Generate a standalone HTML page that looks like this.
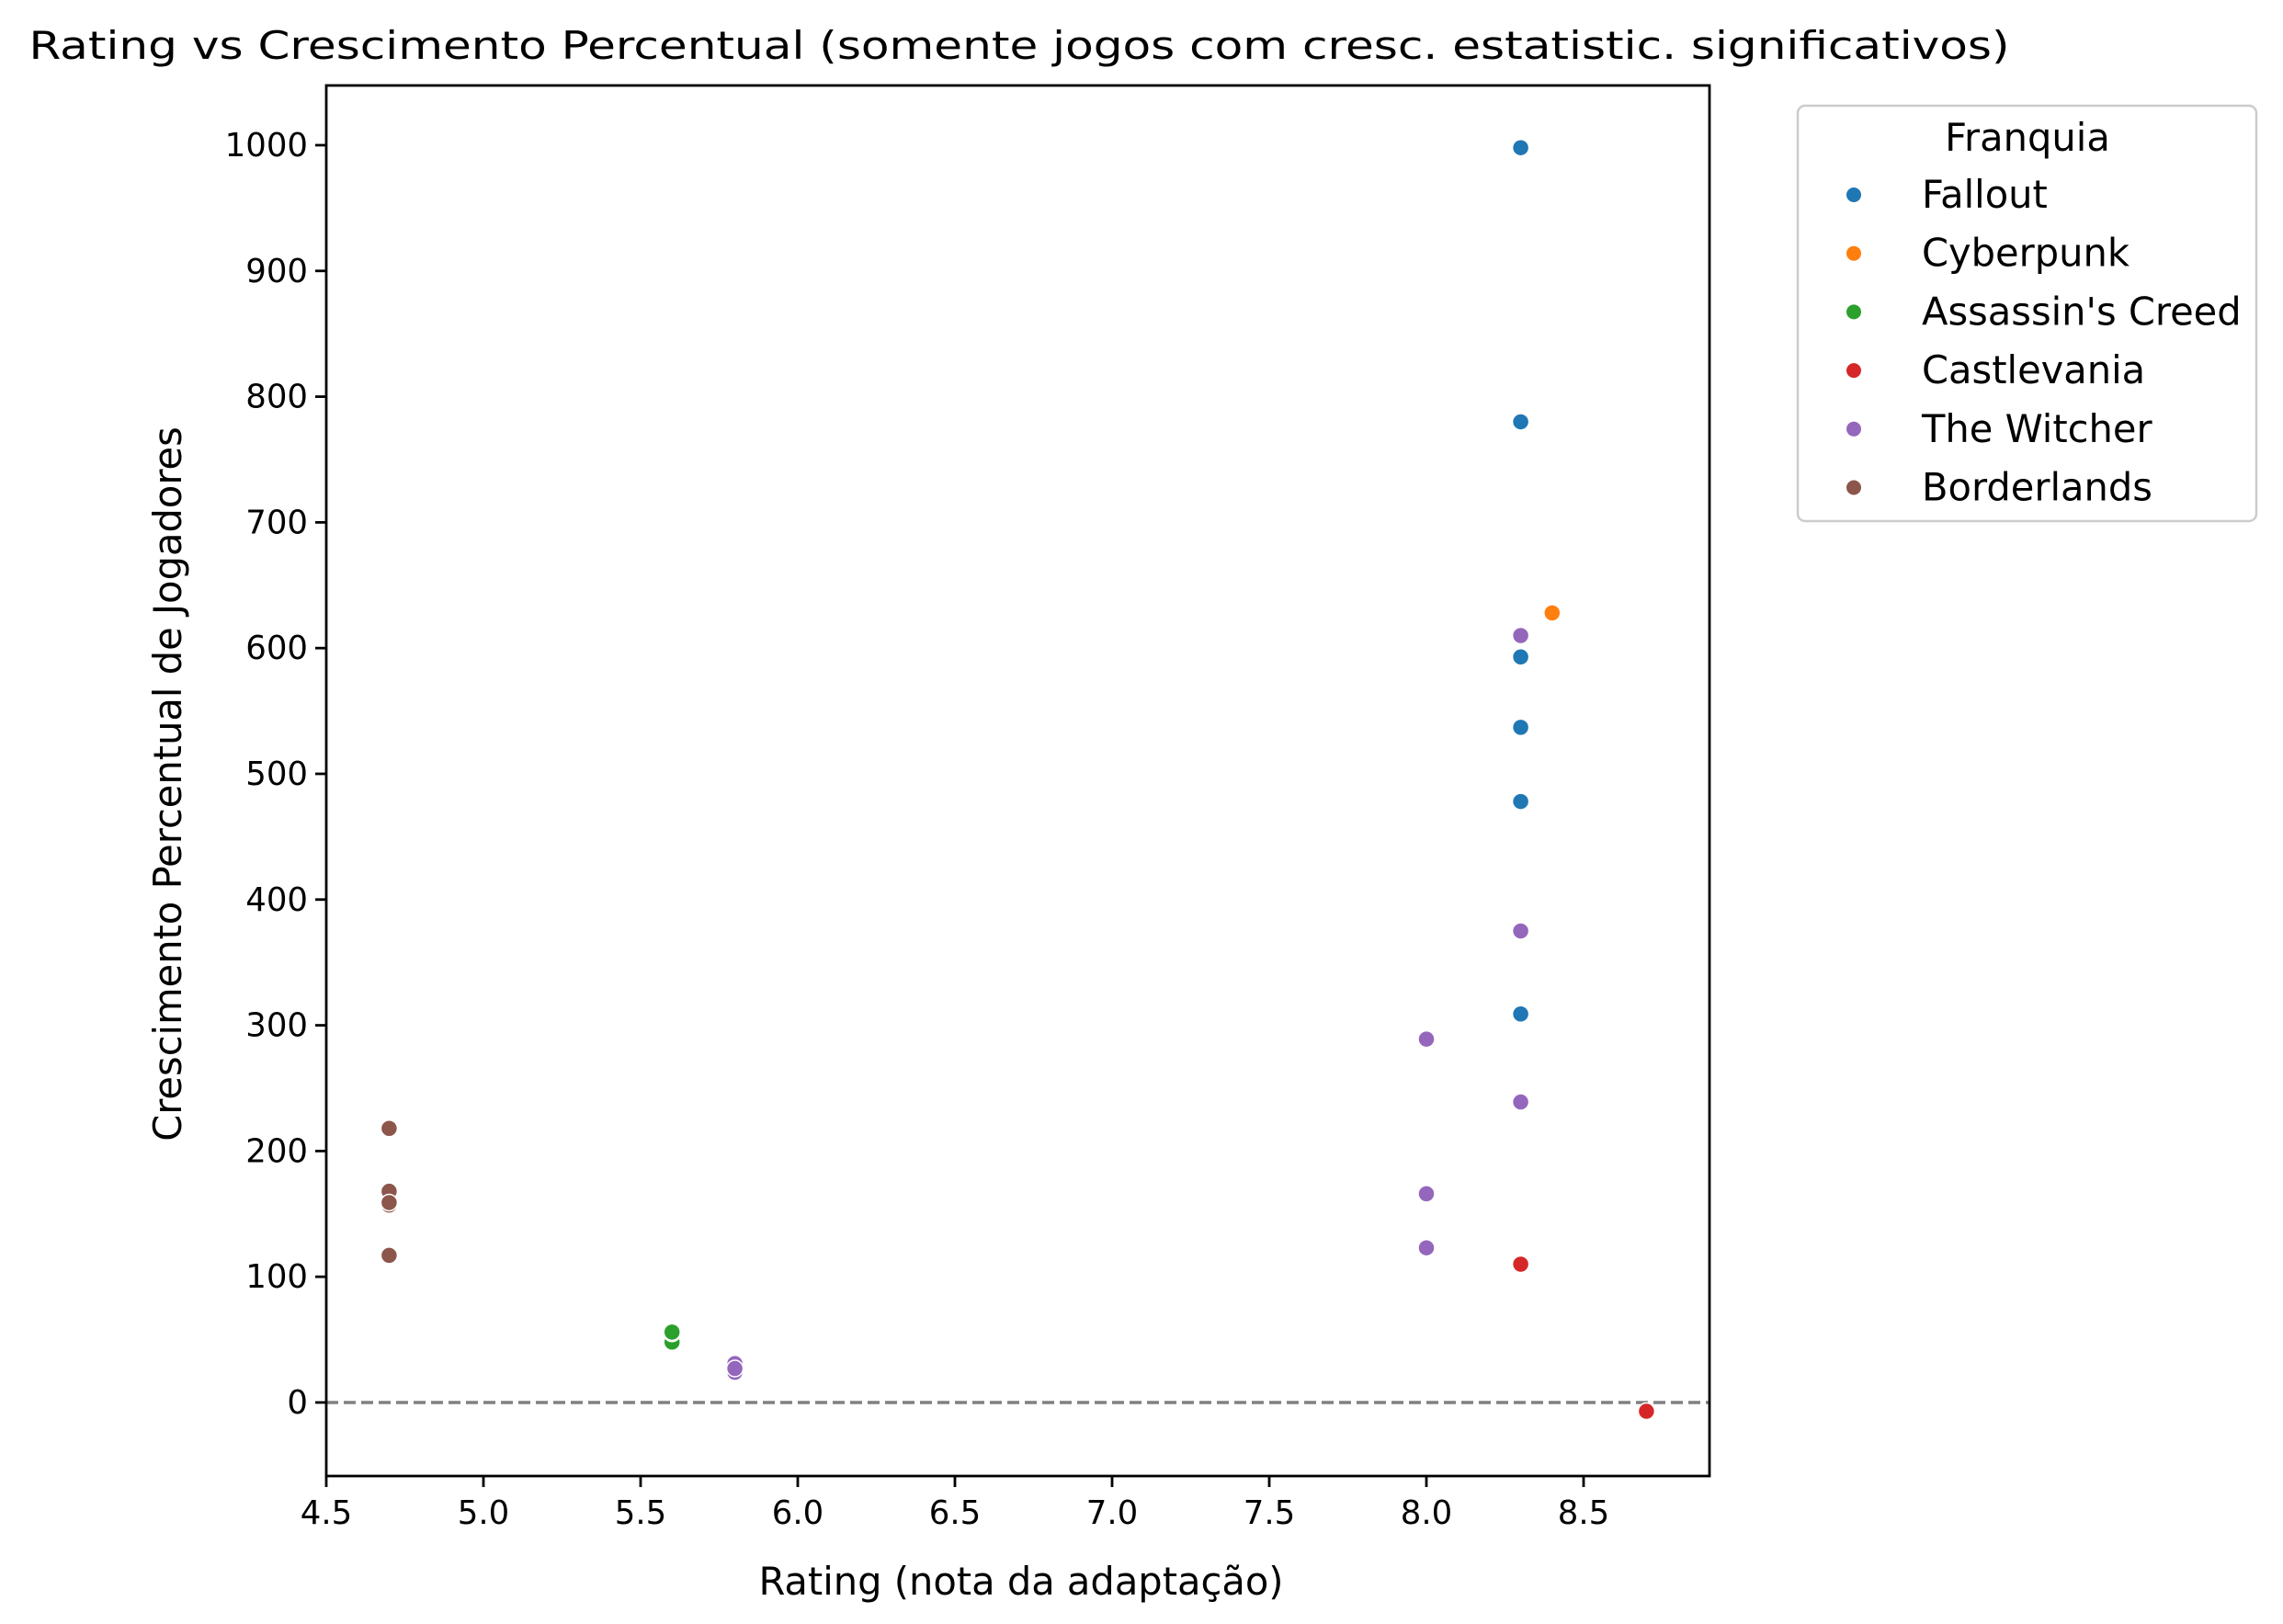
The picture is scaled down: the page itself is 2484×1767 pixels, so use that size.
<!DOCTYPE html>
<html><head><meta charset="utf-8"><style>body{margin:0;background:#fff}svg{display:block}text{font-family:"DejaVu Sans","Liberation Sans",sans-serif}</style></head>
<body>
<svg id="chart" width="2484" height="1767" viewBox="0 0 2484 1767">
<rect width="2484" height="1767" fill="#fff"/>
<text x="1109" y="64" font-size="41.6" text-anchor="middle" textLength="2155" lengthAdjust="spacingAndGlyphs">Rating vs Crescimento Percentual (somente jogos com cresc. estatistic. significativos)</text>
<g id="axes"></g>
<g id="points"></g>
<rect x="355" y="93" width="1505" height="1513" fill="none" stroke="#000" stroke-width="2.8"/>
<text x="1111" y="1735" font-size="41.6" text-anchor="middle">Rating (nota da adaptação)</text>
<text x="0" y="0" font-size="41.6" text-anchor="middle" transform="translate(197,853) rotate(-90)">Crescimento Percentual de Jogadores</text>
<g id="legend" transform="translate(-10,0)">
<rect x="1966" y="115" width="499" height="452" rx="8" fill="#fff" stroke="#ccc" stroke-width="2.5"/>
<text x="2216" y="164" font-size="41.6" text-anchor="middle">Franquia</text>
</g>
</svg>
<script>
const franchises = ["Fallout","Cyberpunk","Assassin's Creed","Castlevania","The Witcher","Borderlands"];
const colors = ["#1f77b4","#ff7f0e","#2ca02c","#d62728","#9467bd","#8c564b"];
const ptRating = [8.3,8.3,8.3,8.3,8.3,8.3, 8.4, 5.6,5.6,5.6, 8.3,8.7, 8.3,8.3,8.3,8.0,8.0,8.0,5.8,5.8,5.8, 4.7,4.7,4.7,4.7,4.7];
const ptGrowth = [998,780,593,537,478,309, 628, 48,55,56, 110,-7, 610,375,239,289,166,123,24,31,27, 218,168,157,159,117];
const ptGroup  = [0,0,0,0,0,0, 1, 2,2,2, 3,3, 4,4,4,4,4,4,4,4,4, 5,5,5,5,5];
const xTicks = [4.5,5.0,5.5,6.0,6.5,7.0,7.5,8.0,8.5];
const yTicks = [0,100,200,300,400,500,600,700,800,900,1000];
const X0=355,X1=1860,Y0=93,Y1=1606,xmin=4.5,xmax=8.9006,ymin=-58.5,ymax=1047.5;
const xs=v=>X0+(v-xmin)/(xmax-xmin)*(X1-X0);
const ys=v=>Y1-(v-ymin)/(ymax-ymin)*(Y1-Y0);
const NS="http://www.w3.org/2000/svg";
const axes=document.getElementById('axes'),pts=document.getElementById('points'),leg=document.getElementById('legend');
function mk(tag,attrs,parent){const e=document.createElementNS(NS,tag);for(const k in attrs)e.setAttribute(k,attrs[k]);parent.appendChild(e);return e;}
xTicks.forEach(t=>{const x=xs(t);
 const l=mk('line',{x1:x,x2:x,y1:Y1,y2:Y1+12,stroke:'#000','stroke-width':2.8},axes);
 
 
 const tx=mk('text',{x:x,y:Y1+52,'font-size':35.5,'text-anchor':'middle'},axes);tx.textContent=t.toFixed(1);
 
 });
yTicks.forEach(t=>{const y=ys(t);
 const l=mk('line',{x1:X0-12,x2:X0,y1:y,y2:y,stroke:'#000','stroke-width':2.8},axes);
 
 
 const tx=mk('text',{x:X0-20,y:y+12,'font-size':35.5,'text-anchor':'end'},axes);tx.textContent=t;
 
 });
const zl=mk('line',{x1:X0,x2:X1,y1:ys(0),y2:ys(0),stroke:'#808080','stroke-width':3.5,'stroke-dasharray':'13 6'},axes);


ptRating.forEach((r,i)=>{
 const c=mk('circle',{cx:xs(r),cy:ys(ptGrowth[i]),r:9,fill:colors[ptGroup[i]],stroke:'#fff','stroke-width':1.5},pts);
 
 });
franchises.forEach((f,i)=>{const y=212+i*63.7;
 const c=mk('circle',{cx:2027,cy:y,r:8,fill:colors[i]},leg);
 
 
 const t=mk('text',{x:2101,y:y+14,'font-size':41.6},leg);t.textContent=f;
 
 });
</script>
</body></html>
